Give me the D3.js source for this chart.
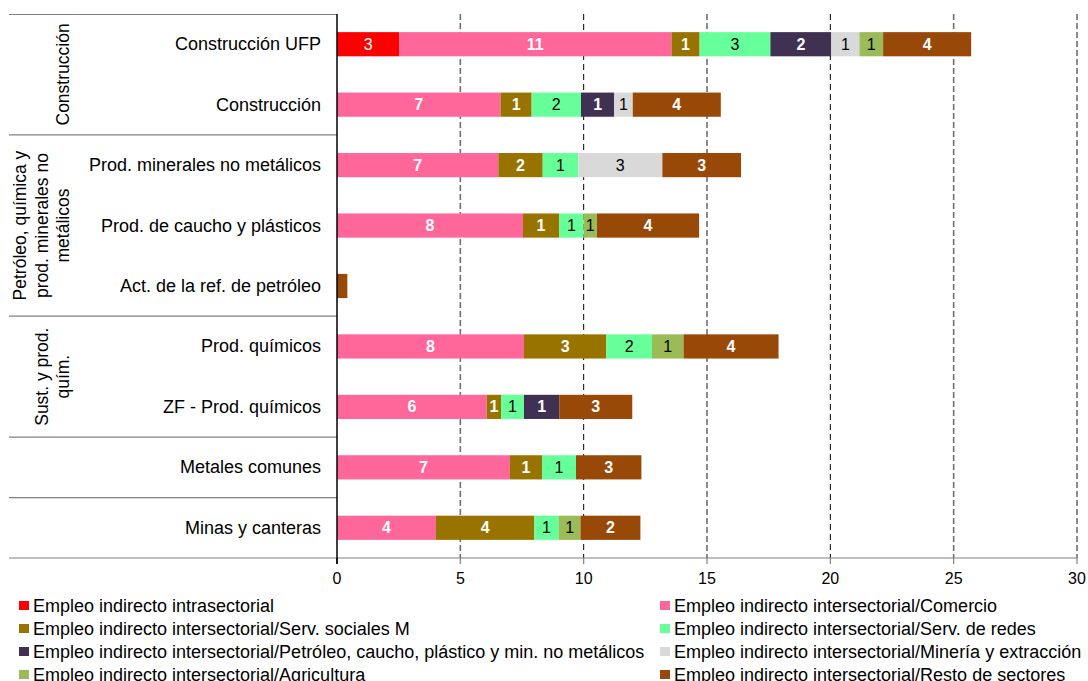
<!DOCTYPE html>
<html><head><meta charset="utf-8">
<script src="https://cdn.jsdelivr.net/npm/d3@7"></script>
<style>
body{margin:0;background:#fff;}
text{font-family:"Liberation Sans",Arial,sans-serif;}
</style></head>
<body><svg id="c" width="1088" height="681"></svg>
<script>
const categories = ["Construcción UFP","Construcción","Prod. minerales no metálicos","Prod. de caucho y plásticos","Act. de la ref. de petróleo","Prod. químicos","ZF - Prod. químicos","Metales comunes","Minas y canteras"];
const seriesNames = ["Empleo indirecto intrasectorial","Empleo indirecto intersectorial/Comercio","Empleo indirecto intersectorial/Serv. sociales M","Empleo indirecto intersectorial/Serv. de redes","Empleo indirecto intersectorial/Petróleo, caucho, plástico y min. no metálicos","Empleo indirecto intersectorial/Minería y extracción","Empleo indirecto intersectorial/Agricultura","Empleo indirecto intersectorial/Resto de sectores"];
const intrasectorial = [2.52,0,0,0,0,0,0,0,0];
const comercio       = [11.04,6.63,6.54,7.54,0,7.58,6.07,7.01,4.01];
const servSociales   = [1.14,1.26,1.80,1.46,0,3.34,0.58,1.30,3.99];
const servRedes      = [2.87,2.00,1.44,1.00,0,1.85,0.93,1.38,0.99];
const petroleo       = [2.47,1.35,0,0,0,0,1.43,0,0];
const mineria        = [1.14,0.75,3.41,0,0,0,0,0,0];
const agricultura    = [0.96,0,0,0.54,0,1.28,0,0,0.88];
const resto          = [3.57,3.57,3.19,4.14,0.42,3.85,2.96,2.65,2.43];
const xTicks = [0,5,10,15,20,25,30];
const groups = [
  {lines:["Construcción"], from:0, to:2},
  {lines:["Petróleo, química y","prod. minerales no","metálicos"], from:2, to:5},
  {lines:["Sust. y prod.","quím."], from:5, to:7},
  {lines:[], from:7, to:8},
  {lines:[], from:8, to:9}
];

const seriesValues = [intrasectorial,comercio,servSociales,servRedes,petroleo,mineria,agricultura,resto];
const colors = ["#FF0000","#FF6699","#997300","#66FF99","#403152","#D9D9D9","#9BBB59","#984807"];
const labelFill = ["#fff","#fff","#fff","#000","#fff","#000","#000","#fff"];
const labelWeight = ["normal","bold","bold","normal","bold","normal","normal","bold"];

const svg = d3.select("#c");
const x = d3.scaleLinear().domain([0,30]).range([337,1077]);
const y = d3.scaleBand().domain(categories).range([14,558]).paddingInner(0.6).paddingOuter(0.3);
const step = y.step();

// gridlines
const grid = svg.append("g");
xTicks.filter(t=>t>0).forEach(t=>{
  const dark = (t===10||t===20);
  grid.append("line").attr("x1",x(t)).attr("x2",x(t)).attr("y1",14).attr("y2",558)
    .attr("stroke",dark?"#000":"#6f6f6f").attr("stroke-width",dark?1:1.6)
    .attr("stroke-dasharray",dark?"6,4":"6,3");
});

// stacked data
const table = categories.map((c,i)=>{const o={cat:c}; seriesValues.forEach((s,j)=>o["s"+j]=s[i]); return o;});
const stack = d3.stack().keys(seriesValues.map((s,j)=>"s"+j))(table);

const gBars = svg.append("g");
stack.forEach((layer,j)=>{
  const g = gBars.append("g");
  layer.forEach(d=>{
    const v = d[1]-d[0];
    if(v<=0) return;
    g.append("rect").attr("x",x(d[0])).attr("y",y(d.data.cat))
      .attr("width",x(d[1])-x(d[0])).attr("height",y.bandwidth()).attr("fill",colors[j]);
  });
});
stack.forEach((layer,j)=>{
  layer.forEach(d=>{
    const v = d[1]-d[0];
    const r = Math.round(v);
    if(v<=0 || r<1) return;
    svg.append("text").attr("x",(x(d[0])+x(d[1]))/2).attr("y",y(d.data.cat)+y.bandwidth()/2)
      .attr("text-anchor","middle").attr("dominant-baseline","central")
      .attr("font-size","16px").attr("font-weight",labelWeight[j]).attr("fill",labelFill[j]).text(r);
  });
});

// left structure lines
const ln = svg.append("g").attr("stroke","#808080").attr("stroke-width",1.2);
ln.append("line").attr("x1",9).attr("x2",337).attr("y1",14.5).attr("y2",14.5);
groups.forEach(g=>{
  const yb = y.range()[0] + g.to*step;
  ln.append("line").attr("x1",9).attr("x2",g.to===9?1077:337).attr("y1",yb).attr("y2",yb);
});
// bottom axis ticks
xTicks.forEach(t=>{
  svg.append("line").attr("x1",x(t)).attr("x2",x(t)).attr("y1",558).attr("y2",564)
    .attr("stroke",t===0?"#000":"#808080").attr("stroke-width",1.2);
  svg.append("text").attr("x",x(t)).attr("y",584).attr("text-anchor","middle")
    .attr("font-size","16px").attr("fill","#000").text(t);
});
// vertical axis
svg.append("line").attr("x1",337).attr("x2",337).attr("y1",14).attr("y2",564).attr("stroke","#000").attr("stroke-width",1.5);

// category labels
categories.forEach(c=>{
  svg.append("text").attr("x",321).attr("y",y(c)+y.bandwidth()/2)
    .attr("text-anchor","end").attr("dominant-baseline","central")
    .attr("font-size","18px").attr("fill","#000").text(c);
});

// group labels
groups.forEach(g=>{
  const yc = y.range()[0] + (g.from+g.to)/2*step;
  const n = g.lines.length;
  g.lines.forEach((l,k)=>{
    const xc = 63 - (n-1-k)*21.5;
    svg.append("text").attr("transform",`translate(${xc},${yc}) rotate(-90)`)
      .attr("text-anchor","middle").attr("dominant-baseline","central")
      .attr("font-size","17.5px").attr("fill","#000").text(l);
  });
});

// legend
seriesNames.forEach((n,j)=>{
  const col = j%2, row = Math.floor(j/2);
  const lx = col===0?19:660, ly = 605.5 + row*23;
  svg.append("rect").attr("x",lx).attr("y",ly-4.5).attr("width",10).attr("height",9).attr("fill",colors[j]);
  svg.append("text").attr("x",lx+14).attr("y",ly).attr("dominant-baseline","central")
    .attr("font-size","18px").attr("fill","#000").text(n);
});
</script></body></html>
